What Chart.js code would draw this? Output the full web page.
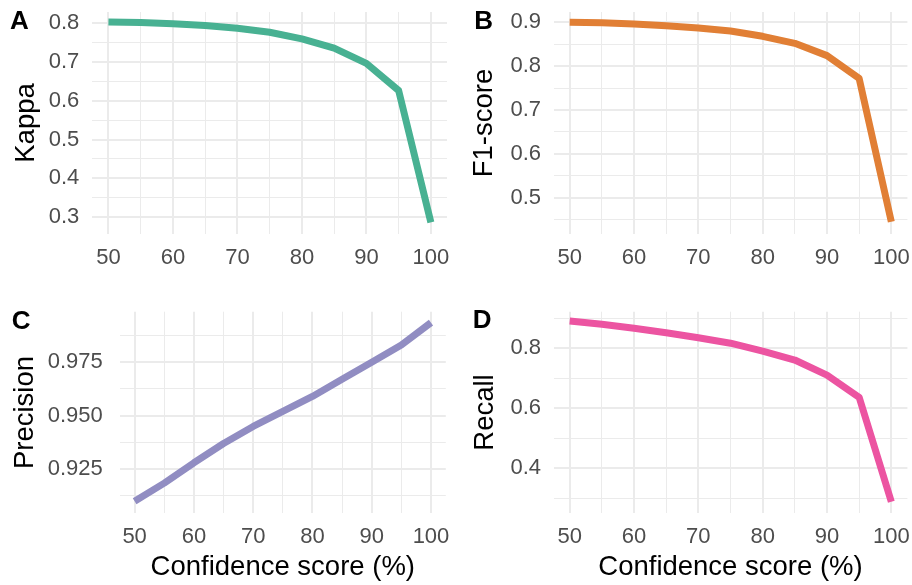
<!DOCTYPE html>
<html><head><meta charset="utf-8">
<script src="https://cdn.jsdelivr.net/npm/chart.js@4.4.1/dist/chart.umd.min.js"></script>
<style>
html,body{margin:0;padding:0;background:#fff;}
#wrap{position:relative;width:912px;height:585px;overflow:hidden;background:#fff;}
canvas{position:absolute;}
</style></head><body>
<div id="wrap">
<canvas id="cA" width="456" height="290" style="left:0;top:0"></canvas>
<canvas id="cB" width="456" height="290" style="left:456px;top:0"></canvas>
<canvas id="cC" width="456" height="295" style="left:0;top:290px"></canvas>
<canvas id="cD" width="456" height="295" style="left:456px;top:290px"></canvas>
</div>
<script>
// ---- data ----
const confidence = [50, 55, 60, 65, 70, 75, 80, 85, 90, 95, 100];
const kappa      = [0.802, 0.801, 0.798, 0.793, 0.786, 0.776, 0.759, 0.735, 0.696, 0.626, 0.287];
const f1score    = [0.900, 0.899, 0.896, 0.892, 0.887, 0.880, 0.868, 0.852, 0.824, 0.772, 0.445];
const precision  = [0.910, 0.9185, 0.928, 0.937, 0.945, 0.952, 0.959, 0.967, 0.975, 0.983, 0.9935];
const recall     = [0.891, 0.880, 0.867, 0.852, 0.835, 0.817, 0.791, 0.761, 0.711, 0.637, 0.289];

const xTicks         = [50, 60, 70, 80, 90, 100];
const kappaTicks     = [0.3, 0.4, 0.5, 0.6, 0.7, 0.8];
const f1Ticks        = [0.5, 0.6, 0.7, 0.8, 0.9];
const precisionTicks = [0.925, 0.950, 0.975];
const recallTicks    = [0.4, 0.6, 0.8];

const xTitle = 'Confidence score (%)';

Chart.defaults.font.family = "'Liberation Sans', Arial, Helvetica, sans-serif";

function withMinor(majors, step, min, max, decimals) {
  const out = [];
  const half = step / 2;
  const start = majors[0] - half;
  const n = Math.round((majors[majors.length - 1] + half - start) / half);
  for (let i = 0; i <= n; i++) {
    const v = +(start + i * half).toFixed(6);
    if (v < min || v > max) continue;
    const isMajor = majors.some(m => Math.abs(m - v) < 1e-9);
    out.push({ value: v, minor: !isMajor, label: isMajor ? v.toFixed(decimals) : '' });
  }
  return out;
}

function makePanel(cfg) {
  const xT = withMinor(xTicks, 10, 47.5, 102.5, 0);
  const yT = withMinor(cfg.majors, cfg.step, cfg.yMin, cfg.yMax, cfg.dec);
  const gridW = (c) => (c.tick && c.tick.minor) ? 1 : 2;
  const tagPlugin = {
    id: 'tag' + cfg.tag,
    afterDraw(chart) {
      const ctx = chart.ctx;
      ctx.save();
      ctx.font = "bold 26px 'Liberation Sans', Arial, sans-serif";
      ctx.fillStyle = '#000';
      ctx.textBaseline = 'alphabetic';
      ctx.textAlign = 'left';
      ctx.fillText(cfg.tag, cfg.tagX, cfg.tagY);
      ctx.restore();
    }
  };
  return new Chart(document.getElementById(cfg.id), {
    type: 'line',
    data: {
      datasets: [{
        data: confidence.map((x, i) => ({ x: x, y: cfg.values[i] })),
        borderColor: cfg.color,
        borderWidth: 7,
        pointRadius: 0,
        tension: 0,
        fill: false,
        borderJoinStyle: 'round',
        borderCapStyle: 'butt'
      }]
    },
    options: {
      responsive: false,
      animation: false,
      devicePixelRatio: 1,
      layout: { padding: { left: 0, top: cfg.padTop, right: cfg.padRight, bottom: 0 } },
      plugins: { legend: { display: false }, tooltip: { enabled: false } },
      scales: {
        x: {
          type: 'linear', min: 47.5, max: 102.5,
          afterBuildTicks: (s) => { s.ticks = xT.map(t => ({ value: t.value, minor: t.minor, lab: t.label })); },
          afterFit: (s) => { s.height = cfg.xHeight; s.paddingLeft = 0; s.paddingRight = 0; },
          grid: { color: '#EBEBEB', lineWidth: gridW, drawTicks: false },
          border: { display: false },
          ticks: {
            autoSkip: false, maxRotation: 0, padding: 10.5, color: '#4D4D4D',
            font: { size: 22 },
            callback: function (v, i, ticks) { return ticks[i].lab; }
          },
          title: {
            display: !!cfg.xTitle, text: cfg.xTitle || '', color: '#000',
            font: { size: 27.5 }, padding: { top: 0, bottom: 1.5 }
          }
        },
        y: {
          type: 'linear', min: cfg.yMin, max: cfg.yMax,
          afterBuildTicks: (s) => { s.ticks = yT.map(t => ({ value: t.value, minor: t.minor, lab: t.label })); },
          afterFit: (s) => { s.width = cfg.yWidth; s.paddingTop = 0; s.paddingBottom = 0; },
          grid: { color: '#EBEBEB', lineWidth: gridW, drawTicks: false },
          border: { display: false },
          ticks: {
            autoSkip: false, padding: cfg.yTickPad, color: '#4D4D4D',
            font: { size: 22 },
            callback: function (v, i, ticks) { return ticks[i].lab; }
          },
          title: {
            display: true, text: cfg.yTitle, color: '#000',
            font: { size: 27.5 }, padding: { top: cfg.yTitlePad, bottom: 0 }
          }
        }
      }
    },
    plugins: [tagPlugin]
  });
}

makePanel({ id: 'cA', tag: 'A', tagX: 10, tagY: 29.3, values: kappa, color: '#48B192', yTitle: 'Kappa',
  yMin: 0.257, yMax: 0.828, majors: kappaTicks, step: 0.1, dec: 1,
  yWidth: 92.3, yTickPad: 13, yTitlePad: 10.4, xHeight: 56, padTop: 12, padRight: 9 });
makePanel({ id: 'cB', tag: 'B', tagX: 18.3, tagY: 29.3, values: f1score, color: '#E17F35', yTitle: 'F1-score',
  yMin: 0.417, yMax: 0.9235, majors: f1Ticks, step: 0.1, dec: 1,
  yWidth: 97.6, yTickPad: 12.6, yTitlePad: 12.4, xHeight: 56, padTop: 12, padRight: 4.6 });
makePanel({ id: 'cC', tag: 'C', tagX: 11.7, tagY: 39, values: precision, color: '#918DC2', yTitle: 'Precision',
  yMin: 0.9044, yMax: 0.9986, majors: precisionTicks, step: 0.025, dec: 3,
  yWidth: 119.8, yTickPad: 17, yTitlePad: 9.4, xHeight: 71.7, padTop: 21.7, padRight: 10.2, xTitle: xTitle });
makePanel({ id: 'cD', tag: 'D', tagX: 16.7, tagY: 38.3, values: recall, color: '#EC54A1', yTitle: 'Recall',
  yMin: 0.2505, yMax: 0.922, majors: recallTicks, step: 0.2, dec: 1,
  yWidth: 97.6, yTickPad: 12.6, yTitlePad: 12.8, xHeight: 71.7, padTop: 21.7, padRight: 4.6, xTitle: xTitle });
</script>
</body></html>
